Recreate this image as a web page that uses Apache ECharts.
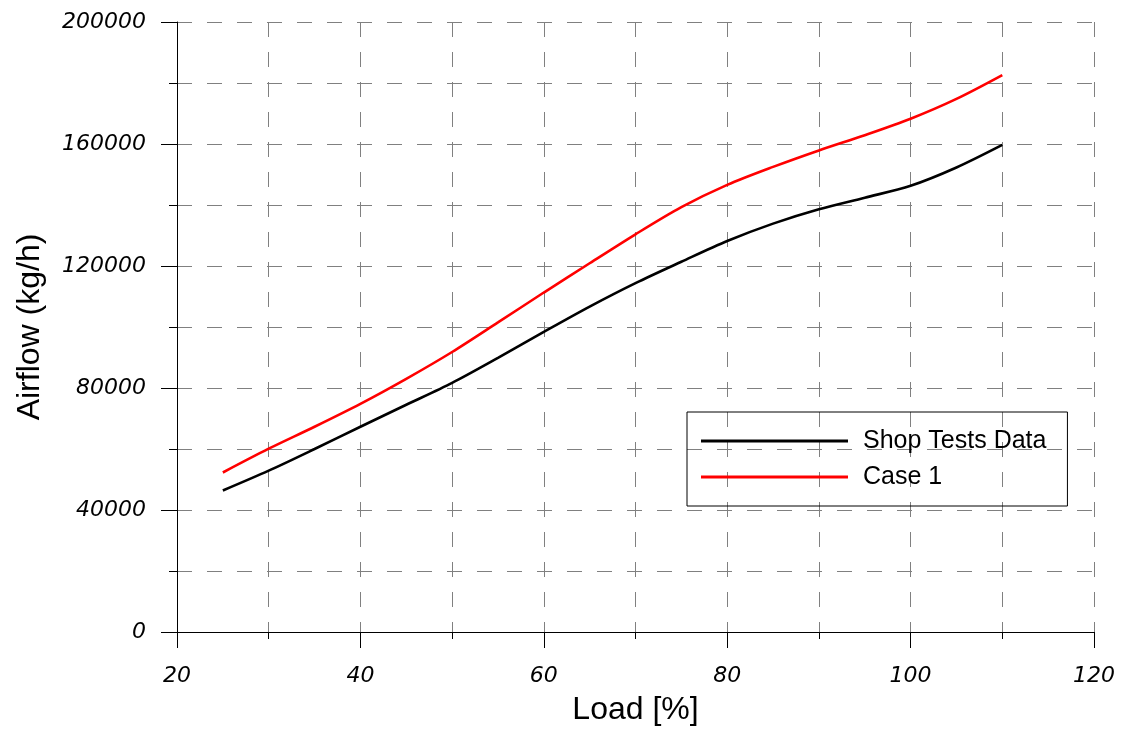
<!DOCTYPE html>
<html>
<head>
<meta charset="utf-8">
<script src="https://cdn.jsdelivr.net/npm/echarts@6/dist/echarts.min.js"></script>
<style>
html, body { margin: 0; padding: 0; background: #fff; }
#container { width: 1123px; height: 731px; }
</style>
</head>
<body>
<div id="container"></div>
<script>
// load points
var load = [25, 30, 35, 40, 45, 50, 55, 60, 65, 70, 75, 80, 85, 90, 95, 100, 105, 110];
var shopTests = [46400, 52900, 60000, 67300, 74500, 81700, 89900, 98400, 106700, 114400,
                 121400, 128200, 133900, 138600, 142400, 146300, 152300, 159700];
var case1 = [52300, 60100, 67300, 74800, 83000, 91800, 101500, 111300, 120900, 130400,
             139300, 146600, 152500, 157900, 162900, 168300, 174800, 182600];

function pairs(xs, ys) {
    var out = [];
    for (var i = 0; i < xs.length; i++) {
        out.push([xs[i], ys[i]]);
    }
    return out;
}

var gridDash = {show: true, lineStyle: {color: '#808080', width: 1, type: [15, 15]}};
var tickFont = {fontFamily: 'DejaVu Sans', fontStyle: 'italic', fontSize: 22, color: '#000'};

var myChart = echarts.init(document.getElementById('container'));
var option = {
    backgroundColor: '#ffffff',
    animation: false,
    grid: {left: 177, right: 29, top: 22, bottom: 97},
    legend: {
        orient: 'vertical',
        left: 687,
        top: 412,
        padding: [16, 21, 16, 14],
        borderColor: '#000',
        borderWidth: 1,
        icon: 'rect',
        itemWidth: 147,
        itemHeight: 3,
        itemGap: 10,
        textStyle: {fontFamily: 'Liberation Sans', fontSize: 25, color: '#000', lineHeight: 26, padding: [0, 0, 0, 10]},
        data: ['Shop Tests Data', 'Case 1']
    },
    xAxis: {
        type: 'value',
        min: 20,
        max: 120,
        interval: 20,
        name: 'Load [%]',
        nameLocation: 'middle',
        nameGap: 62,
        nameTextStyle: {fontFamily: 'Liberation Sans', fontSize: 32, color: '#000'},
        axisLine: {show: true, onZero: false, lineStyle: {color: '#000', width: 1}},
        axisTick: {show: true, length: 16, lineStyle: {color: '#000'}},
        minorTick: {show: true, splitNumber: 2, length: 7, lineStyle: {color: '#000'}},
        axisLabel: Object.assign({margin: 33, formatter: function (v) { return String(v); }}, tickFont),
        splitLine: gridDash,
        minorSplitLine: gridDash
    },
    yAxis: {
        type: 'value',
        min: 0,
        max: 200000,
        interval: 40000,
        name: 'Airflow (kg/h)',
        nameLocation: 'middle',
        nameGap: 131,
        nameTextStyle: {fontFamily: 'Liberation Sans', fontSize: 32, color: '#000'},
        axisLine: {show: true, onZero: false, lineStyle: {color: '#000', width: 1}},
        axisTick: {show: true, length: 16, lineStyle: {color: '#000'}},
        minorTick: {show: true, splitNumber: 2, length: 8, lineStyle: {color: '#000'}},
        axisLabel: Object.assign({margin: 31, formatter: function (v) { return String(v); }}, tickFont),
        splitLine: gridDash,
        minorSplitLine: gridDash
    },
    series: [{
        name: 'Shop Tests Data',
        type: 'line',
        smooth: 0.3,
        symbol: 'none',
        lineStyle: {color: '#000000', width: 2.6},
        itemStyle: {color: '#000000'},
        data: pairs(load, shopTests)
    }, {
        name: 'Case 1',
        type: 'line',
        smooth: 0.3,
        symbol: 'none',
        lineStyle: {color: '#ff0000', width: 2.6},
        itemStyle: {color: '#ff0000'},
        data: pairs(load, case1)
    }]
};
myChart.setOption(option);
</script>
</body>
</html>
